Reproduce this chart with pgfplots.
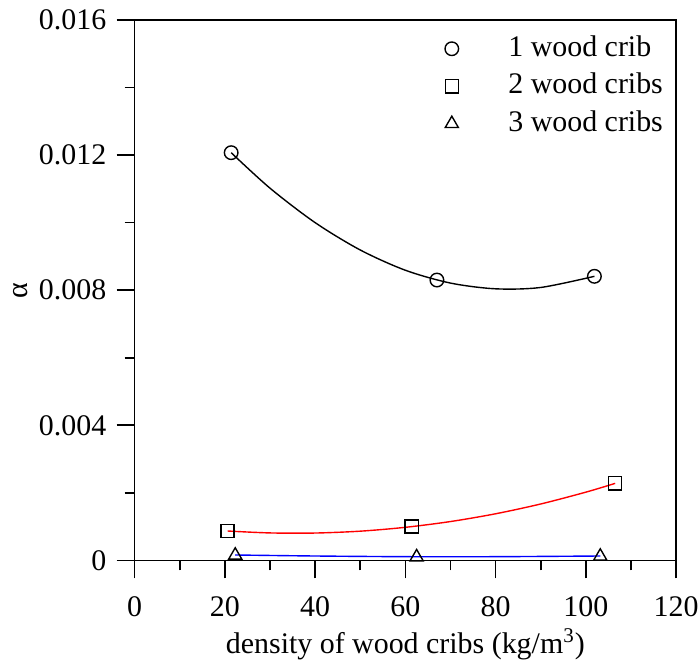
\documentclass[border=0pt]{standalone}
\usepackage{fontspec}
\setmainfont{Liberation Serif}
\usepackage{pgfplots}
\pgfplotsset{compat=1.18}

\begin{document}
\fontsize{15}{18}\selectfont
\begin{tikzpicture}
\begin{axis}[
    name=ax,
    scale only axis,
    width=271.5pt, height=271pt,
    xmin=0, xmax=120, ymin=0, ymax=0.016,
    xtick={0,20,...,120},
    ytick={0,0.004,0.008,0.012,0.016},
    yticklabels={0,0.004,0.008,0.012,0.016},
    minor x tick num=1, minor y tick num=1,
    tick align=outside,
    xtick pos=bottom, ytick pos=left,
    major tick length=9pt, minor tick length=5pt,
    tick style={black, line width=0.8pt},
    axis line style={line width=0.8pt},
    scaled y ticks=false,
    /pgf/number format/assume math mode=true,
    tick label style={font=\fontsize{15}{18}\selectfont, inner sep=0pt},
    xticklabel style={yshift=-9pt},
    yticklabel style={xshift=-5pt},
    label style={font=\fontsize{15}{18}\selectfont, inner sep=0pt},
    xlabel={density of wood cribs (kg/m\textsuperscript{3})},
    xlabel style={at={(axis description cs:0.5,0)}, anchor=base, yshift=-46.5pt},
    ylabel={α},
    ylabel style={at={(axis description cs:-0.21,0.5)}, anchor=center},
    legend style={draw=none, fill=none, inner sep=0pt,
        at={(axis description cs:0,1)}, anchor=north west,
        xshift=153.5pt, yshift=-6.5pt, row sep=3.3pt,
        nodes={inner sep=1pt, text height=10.5pt, text depth=3pt},
        font=\fontsize{15}{18}\selectfont},
    legend image code/.code={
        \path (-5pt,0pt) (27pt,0pt);
        \draw[#1] plot coordinates {(0pt,0pt)};
    },
    legend cell align=left,
]
% fitted curves
\addplot[black, line width=0.7pt, smooth, forget plot] coordinates {
    (21.4,0.01207) (30,0.01102) (40,0.01000) (50,0.00919) (60,0.00859)
    (70,0.00821) (80,0.00804) (90,0.00808) (101.9,0.00841)
};
\addplot[red, line width=0.7pt, smooth, forget plot] coordinates {
    (20.6,0.00087) (30,0.000813) (40,0.00081) (50,0.000865) (60,0.000979)
    (70,0.00115) (80,0.00138) (90,0.00167) (100,0.00202) (106.5,0.00228)
};
\addplot[blue, line width=0.7pt, smooth, forget plot] coordinates {
    (22.3,0.00016) (40,0.00013) (60,0.00011) (80,0.00011) (103.2,0.00013)
};
% measured points
\addplot[only marks, mark=o, mark size=3.4pt, black, line width=0.7pt] coordinates {
    (21.4,0.01207) (67.0,0.00830) (101.9,0.00841)
};
\addlegendentry{1 wood crib}
\addplot[only marks, mark=square, mark size=3.3pt, black, line width=0.7pt] coordinates {
    (20.6,0.00087) (61.4,0.00100) (106.5,0.00228)
};
\addlegendentry{2 wood cribs}
\addplot[only marks, mark=triangle, mark size=3.8pt, black, line width=0.7pt] coordinates {
    (22.3,0.00015) (62.5,0.00010) (103.2,0.00012)
};
\addlegendentry{3 wood cribs}
\end{axis}
\path ([xshift=-67.5pt,yshift=-47pt]ax.south west) rectangle ([xshift=12pt,yshift=10pt]ax.north east);
\end{tikzpicture}
\end{document}
